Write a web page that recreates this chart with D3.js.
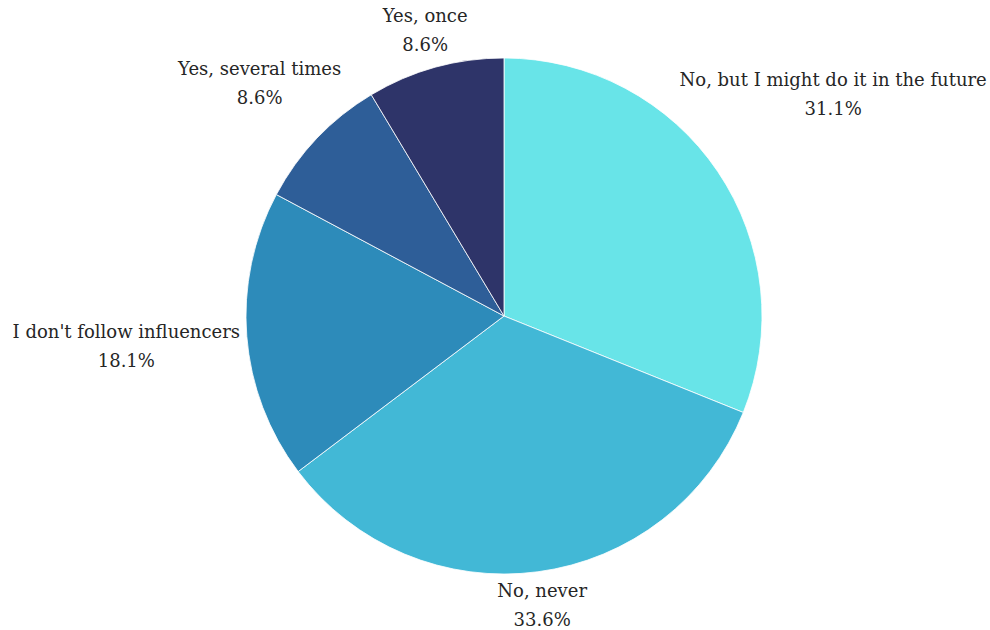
<!DOCTYPE html>
<html>
<head>
<meta charset="utf-8">
<script src="https://cdn.jsdelivr.net/npm/d3@7"></script>
<style>
  html, body { margin: 0; padding: 0; background: #fff; }
  svg { display: block; }
  .lbl { font-family: "DejaVu Serif", serif; font-size: 18px; fill: #262626; }
</style>
</head>
<body>
<svg id="chart" width="990" height="630"></svg>
<script>
// Survey answers, clockwise from 12 o'clock
const categories = [
  "No, but I might do it in the future",
  "No, never",
  "I don't follow influencers",
  "Yes, several times",
  "Yes, once"
];
const shares = [31.1, 33.6, 18.1, 8.6, 8.6];
const sliceColors = ["#68e4e8", "#42b8d6", "#2d8bba", "#2e5e98", "#2e3469"];

const width = 990, height = 630;
const cx = 504, cy = 316, radius = 258;
const labelGap = 6;
const lineHeight = 29;

const svg = d3.select("#chart");
const g = svg.append("g").attr("transform", `translate(${cx},${cy})`);

const data = categories.map((c, i) => ({ name: c, value: shares[i], color: sliceColors[i] }));

const pie = d3.pie().value(d => d.value).sort(null);
const arc = d3.arc().innerRadius(0).outerRadius(radius);
const arcs = pie(data);

g.selectAll("path.slice")
  .data(arcs)
  .join("path")
  .attr("class", "slice")
  .attr("d", arc)
  .attr("fill", d => d.data.color)
  .attr("stroke", "#ffffff")
  .attr("stroke-width", 0.8);

// Labels sit outside the pie along each slice's mid-angle, pushed out until
// their box clears the rim by labelGap; kept inside the canvas.
const labels = g.selectAll("g.lbl-g")
  .data(arcs)
  .join("g")
  .attr("class", "lbl-g");

labels.each(function (d) {
  const grp = d3.select(this);
  const t = grp.append("text").attr("class", "lbl").attr("text-anchor", "middle");
  t.append("tspan").attr("x", 0).attr("dy", 0).text(d.data.name);
  t.append("tspan").attr("x", 0).attr("dy", lineHeight).text(d.data.value.toFixed(1) + "%");
  const bb = t.node().getBBox();
  const w = bb.width, h = bb.height;
  const mid = (d.startAngle + d.endAngle) / 2;
  const ux = Math.sin(mid), uy = -Math.cos(mid);
  const minDist = (px, py) => {
    const nx = Math.max(px - w / 2, Math.min(0, px + w / 2));
    const ny = Math.max(py - h / 2, Math.min(0, py + h / 2));
    return Math.hypot(nx, ny);
  };
  let lo = 0, hi = 1000;
  for (let k = 0; k < 60; k++) {
    const m = (lo + hi) / 2;
    if (minDist(ux * m, uy * m) < radius + labelGap) lo = m; else hi = m;
  }
  let px = ux * hi, py = uy * hi;
  // clamp horizontally to the canvas
  const maxX = width - cx - 2 - w / 2, minX = -cx + 2 + w / 2;
  px = Math.max(minX, Math.min(maxX, px));
  const bcx = bb.x + bb.width / 2, bcy = bb.y + bb.height / 2;
  t.attr("transform", `translate(${px - bcx},${py - bcy})`);
});
</script>
</body>
</html>
